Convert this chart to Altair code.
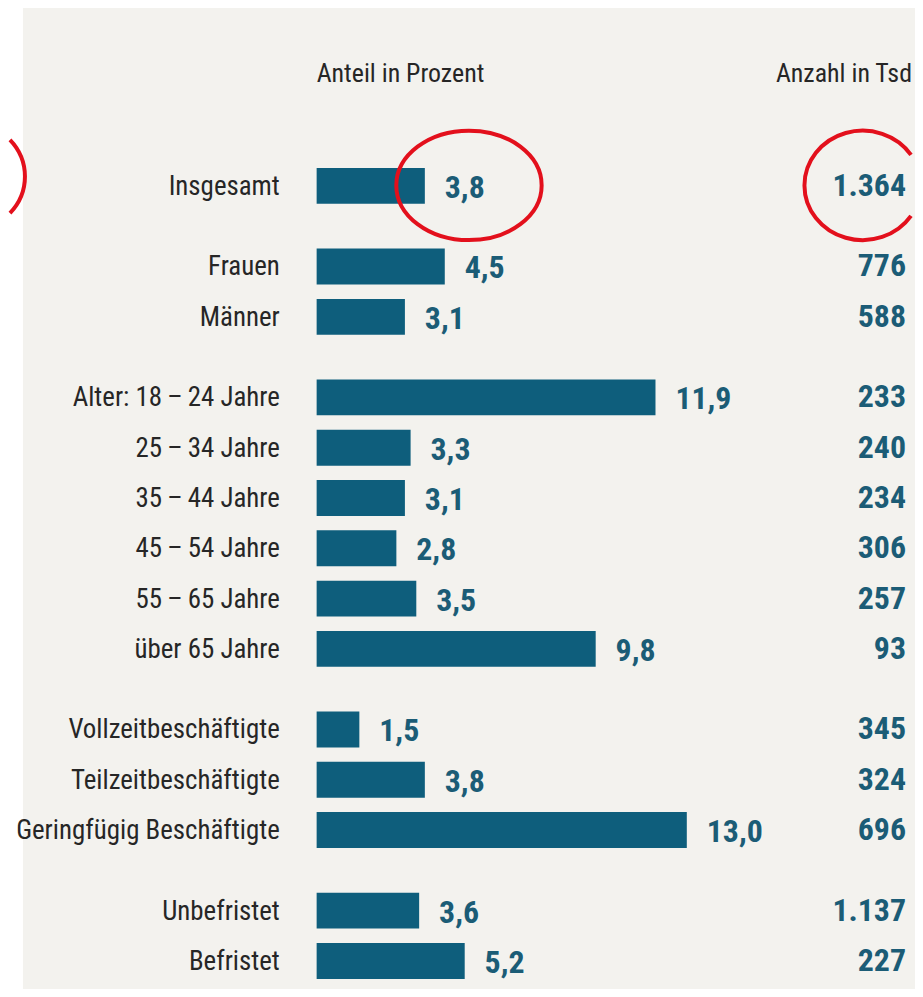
import altair as alt
import pandas as pd

# ---------------- data ----------------
categories = [
    "Insgesamt",
    "Frauen", "Männer",
    "Alter: 18\u2009–\u200924 Jahre", "25\u2009–\u200934 Jahre", "35\u2009–\u200944 Jahre",
    "45\u2009–\u200954 Jahre", "55\u2009–\u200965 Jahre", "über 65 Jahre",
    "Vollzeitbeschäftigte", "Teilzeitbeschäftigte", "Geringfügig Beschäftigte",
    "Unbefristet", "Befristet",
]
shares = [3.8, 4.5, 3.1, 11.9, 3.3, 3.1, 2.8, 3.5, 9.8, 1.5, 3.8, 13.0, 3.6, 5.2]
counts = [1364, 776, 588, 233, 240, 234, 306, 257, 93, 345, 324, 696, 1137, 227]
groups = [0, 1, 1, 2, 2, 2, 2, 2, 2, 3, 3, 3, 4, 4]
headers = ["Anteil in Prozent", "Anzahl in Tsd"]

# ---------------- style ----------------
BG = "#f3f2ee"
BAR = "#0e5e7c"
NUM = "#1b5c76"
INK = "#262626"
RED = "#e3101c"
FONT = "Roboto Condensed, Liberation Sans Narrow, DejaVu Sans Condensed, sans-serif"
LABEL_SIZE = 27
HEAD_SIZE = 26
NUM_SIZE = 32

STEP = 50.5          # px per row
GROUP_GAP = 0.604    # extra gap between groups, in rows
BAR_H = 36
PAD_TOP = 151.25
W = 589
H = 981 - PAD_TOP - 4
XMAX = W / 28.6
YMIN = -0.5
YMAX = YMIN + H / STEP

df = pd.DataFrame({"category": categories, "share": shares, "count": counts, "group": groups})
df["row"] = range(len(df))
df["slot"] = df["row"] + GROUP_GAP * df["group"]
df["share_label"] = df["share"].map(lambda v: f"{v:.1f}".replace(".", ","))
df["count_label"] = df["count"].map(lambda v: f"{v:,}".replace(",", "."))

one = pd.DataFrame({"k": [0]})

xs = alt.X("share:Q", scale=alt.Scale(domain=[0, XMAX], nice=False, zero=True, padding=0),
           axis=None)
ys = alt.Y("slot:Q", scale=alt.Scale(domain=[YMIN, YMAX], reverse=True, nice=False,
                                     zero=False, padding=0),
           axis=None)

base = alt.Chart(df)

bars = base.mark_bar(color=BAR, orient="horizontal", size=BAR_H).encode(x=xs, y=ys)

vals = base.mark_text(
    align="left", baseline="middle", dx=20, dy=2, font=FONT, fontSize=NUM_SIZE,
    fontWeight="bold", color=NUM,
).encode(x=xs, y=ys, text="share_label:N")

cnts = base.mark_text(
    align="right", baseline="middle", font=FONT, fontSize=NUM_SIZE,
    fontWeight="bold", color=NUM,
).encode(x=alt.value(W + 3), y=ys, text="count_label:N")

labels = base.mark_text(
    align="right", baseline="middle", dx=-37, dy=1, font=FONT, fontSize=LABEL_SIZE, color=INK,
).encode(x=alt.value(0), y=ys, text="category:N")

strip = alt.Chart(one).mark_rect(color="white").encode(
    x=alt.value(-310), x2=alt.value(-295), y=alt.value(-160), y2=alt.value(840),
)

h1 = alt.Chart(pd.DataFrame({"t": [headers[0]]})).mark_text(
    align="left", baseline="middle", font=FONT, fontSize=HEAD_SIZE, color=INK
).encode(x=alt.value(0), y=alt.value(72 - 8 - PAD_TOP), text="t:N")
h2 = alt.Chart(pd.DataFrame({"t": [headers[1]]})).mark_text(
    align="right", baseline="middle", font=FONT, fontSize=HEAD_SIZE, color=INK
).encode(x=alt.value(598), y=alt.value(72 - 8 - PAD_TOP), text="t:N")


def ring(path, size, x, y):
    return alt.Chart(one).mark_point(
        shape=path, size=size, filled=False, stroke=RED, strokeWidth=4, opacity=1,
    ).encode(x=alt.value(x), y=alt.value(y))


RING_Y = 184 - 8 - PAD_TOP
e1 = ring("M -1 0 A 1 0.753 0 1 1 1 0 A 1 0.753 0 1 1 -1 0 Z", 146 ** 2, 153, RING_Y)
e2 = ring("M 4.85 -3.07 A 5.85 5.5 0 1 0 4.85 3.07", 400, 548.5, RING_Y)
e3 = ring("M -1 -3.68 A 5.85 5.5 0 0 1 -1 3.68", 400, -298, RING_Y - 9)

chart = (
    alt.layer(strip, e3, bars, vals, cnts, labels, h1, h2, e1, e2)
    .properties(
        width=W,
        height=H,
        autosize=alt.AutoSizeParams(type="none"),
        padding={"left": 310, "top": PAD_TOP, "right": 12, "bottom": 4},
        background=BG,
    )
    .configure_view(stroke=None)
)

chart.save("out.html", embed_options={"renderer": "svg", "actions": False})
